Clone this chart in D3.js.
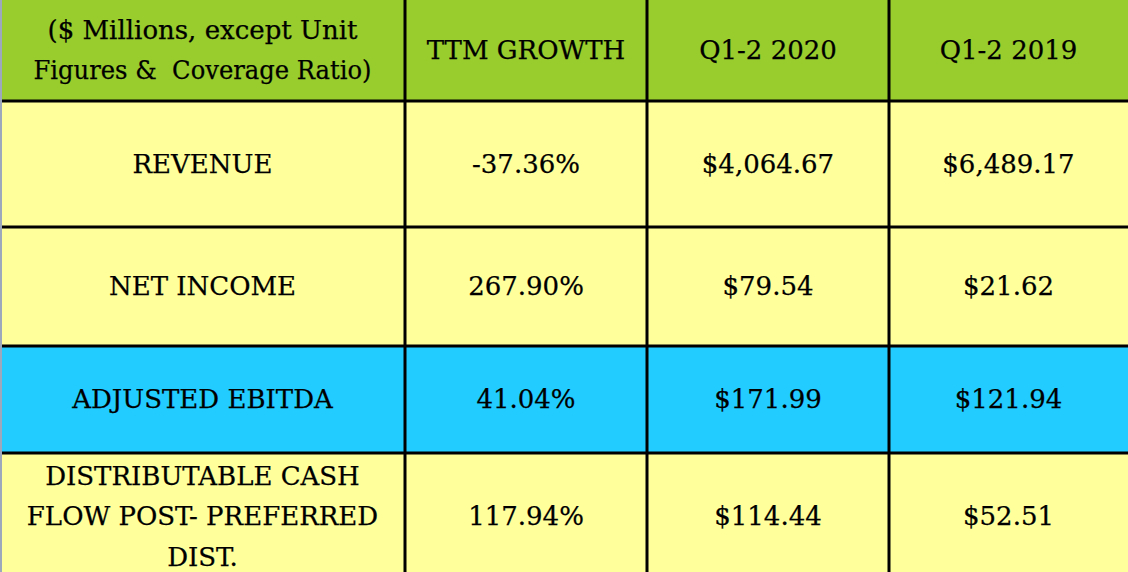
<!DOCTYPE html>
<html>
<head>
<meta charset="utf-8">
<script src="https://cdn.jsdelivr.net/npm/d3@7"></script>
<style>
  html, body { margin: 0; padding: 0; background: #fff; overflow: hidden; }
  svg { display: block; }
  text { white-space: pre; }
</style>
</head>
<body>
<div id="chart"></div>
<script>
// table content
const headerLines = [
  ["($ Millions, except Unit", "Figures &  Coverage Ratio)"],
  ["TTM GROWTH"],
  ["Q1-2 2020"],
  ["Q1-2 2019"]
];
const rowLabels = [
  ["REVENUE"],
  ["NET INCOME"],
  ["ADJUSTED EBITDA"],
  ["DISTRIBUTABLE CASH", "FLOW POST- PREFERRED", "DIST."]
];
const ttmGrowth = ["-37.36%", "267.90%", "41.04%", "117.94%"];
const q2020 = ["$4,064.67", "$79.54", "$171.99", "$114.44"];
const q2019 = ["$6,489.17", "$21.62", "$121.94", "$52.51"];
const highlighted = [false, false, true, false];

const width = 1128, height = 572;
const fontSize = 26, lineGap = 40.5;

// layout: column and row edges in pixels
const colEdges = [0, 405, 647, 889, 1128];
const rowEdges = [0, 101, 227, 346, 453, 580];
// widest header line is squeezed to the width it has in the original
const maxHeaderLineWidth = 338;

const colors = { header: "#99cc2d", body: "#ffff9c", blue: "#22ccff", strip: "#9ea8bc" };

const rows = [headerLines.map(l => ({ lines: l }))].concat(
  rowLabels.map((lab, i) => [
    { lines: lab }, { lines: [ttmGrowth[i]] }, { lines: [q2020[i]] }, { lines: [q2019[i]] }
  ].map(c => Object.assign(c, { fill: highlighted[i] ? colors.blue : colors.body })))
);
rows[0].forEach(c => c.fill = colors.header);

const svg = d3.select("#chart").append("svg")
  .attr("width", width).attr("height", height);

const rowG = svg.selectAll("g.row").data(rows).join("g").attr("class", "row");

const cells = rowG.selectAll("g.cell")
  .data((r, ri) => r.map((c, ci) => Object.assign({}, c, { ri, ci })))
  .join("g").attr("class", "cell");

cells.append("rect")
  .attr("x", d => colEdges[d.ci])
  .attr("y", d => rowEdges[d.ri])
  .attr("width", d => colEdges[d.ci + 1] - colEdges[d.ci])
  .attr("height", d => rowEdges[d.ri + 1] - rowEdges[d.ri])
  .attr("fill", d => d.fill);

cells.each(function(d) {
  const cx = (colEdges[d.ci] + colEdges[d.ci + 1]) / 2;
  const cy = (rowEdges[d.ri] + rowEdges[d.ri + 1]) / 2;
  const n = d.lines.length;
  d3.select(this).selectAll("text").data(d.lines).join("text")
    .attr("x", cx)
    .attr("y", (t, k) => cy + (k - (n - 1) / 2) * lineGap)
    .attr("dy", "0.33em")
    .attr("text-anchor", "middle")
    .attr("font-family", "'DejaVu Serif', serif")
    .attr("font-size", fontSize)
    .attr("fill", "#000")
    .attr("stroke", "#000")
    .attr("stroke-width", 0.25)
    .text(t => t)
    .each(function() {
      if (d.ri === 0 && this.getComputedTextLength() > maxHeaderLineWidth) {
        d3.select(this).attr("textLength", maxHeaderLineWidth).attr("lengthAdjust", "spacingAndGlyphs");
      }
    });
});

// grid lines
svg.selectAll("line.v").data(colEdges.slice(1, -1)).join("line")
  .attr("class", "v")
  .attr("x1", d => d).attr("x2", d => d)
  .attr("y1", 0).attr("y2", height)
  .attr("stroke", "#000").attr("stroke-width", 3);

svg.selectAll("line.h").data(rowEdges.slice(1, -1)).join("line")
  .attr("class", "h")
  .attr("x1", 0).attr("x2", width)
  .attr("y1", d => d).attr("y2", d => d)
  .attr("stroke", "#000").attr("stroke-width", 3);

// thin strip on the left edge
svg.append("rect").attr("x", 0).attr("y", 0).attr("width", 2).attr("height", height)
  .attr("fill", colors.strip);
</script>
</body>
</html>
